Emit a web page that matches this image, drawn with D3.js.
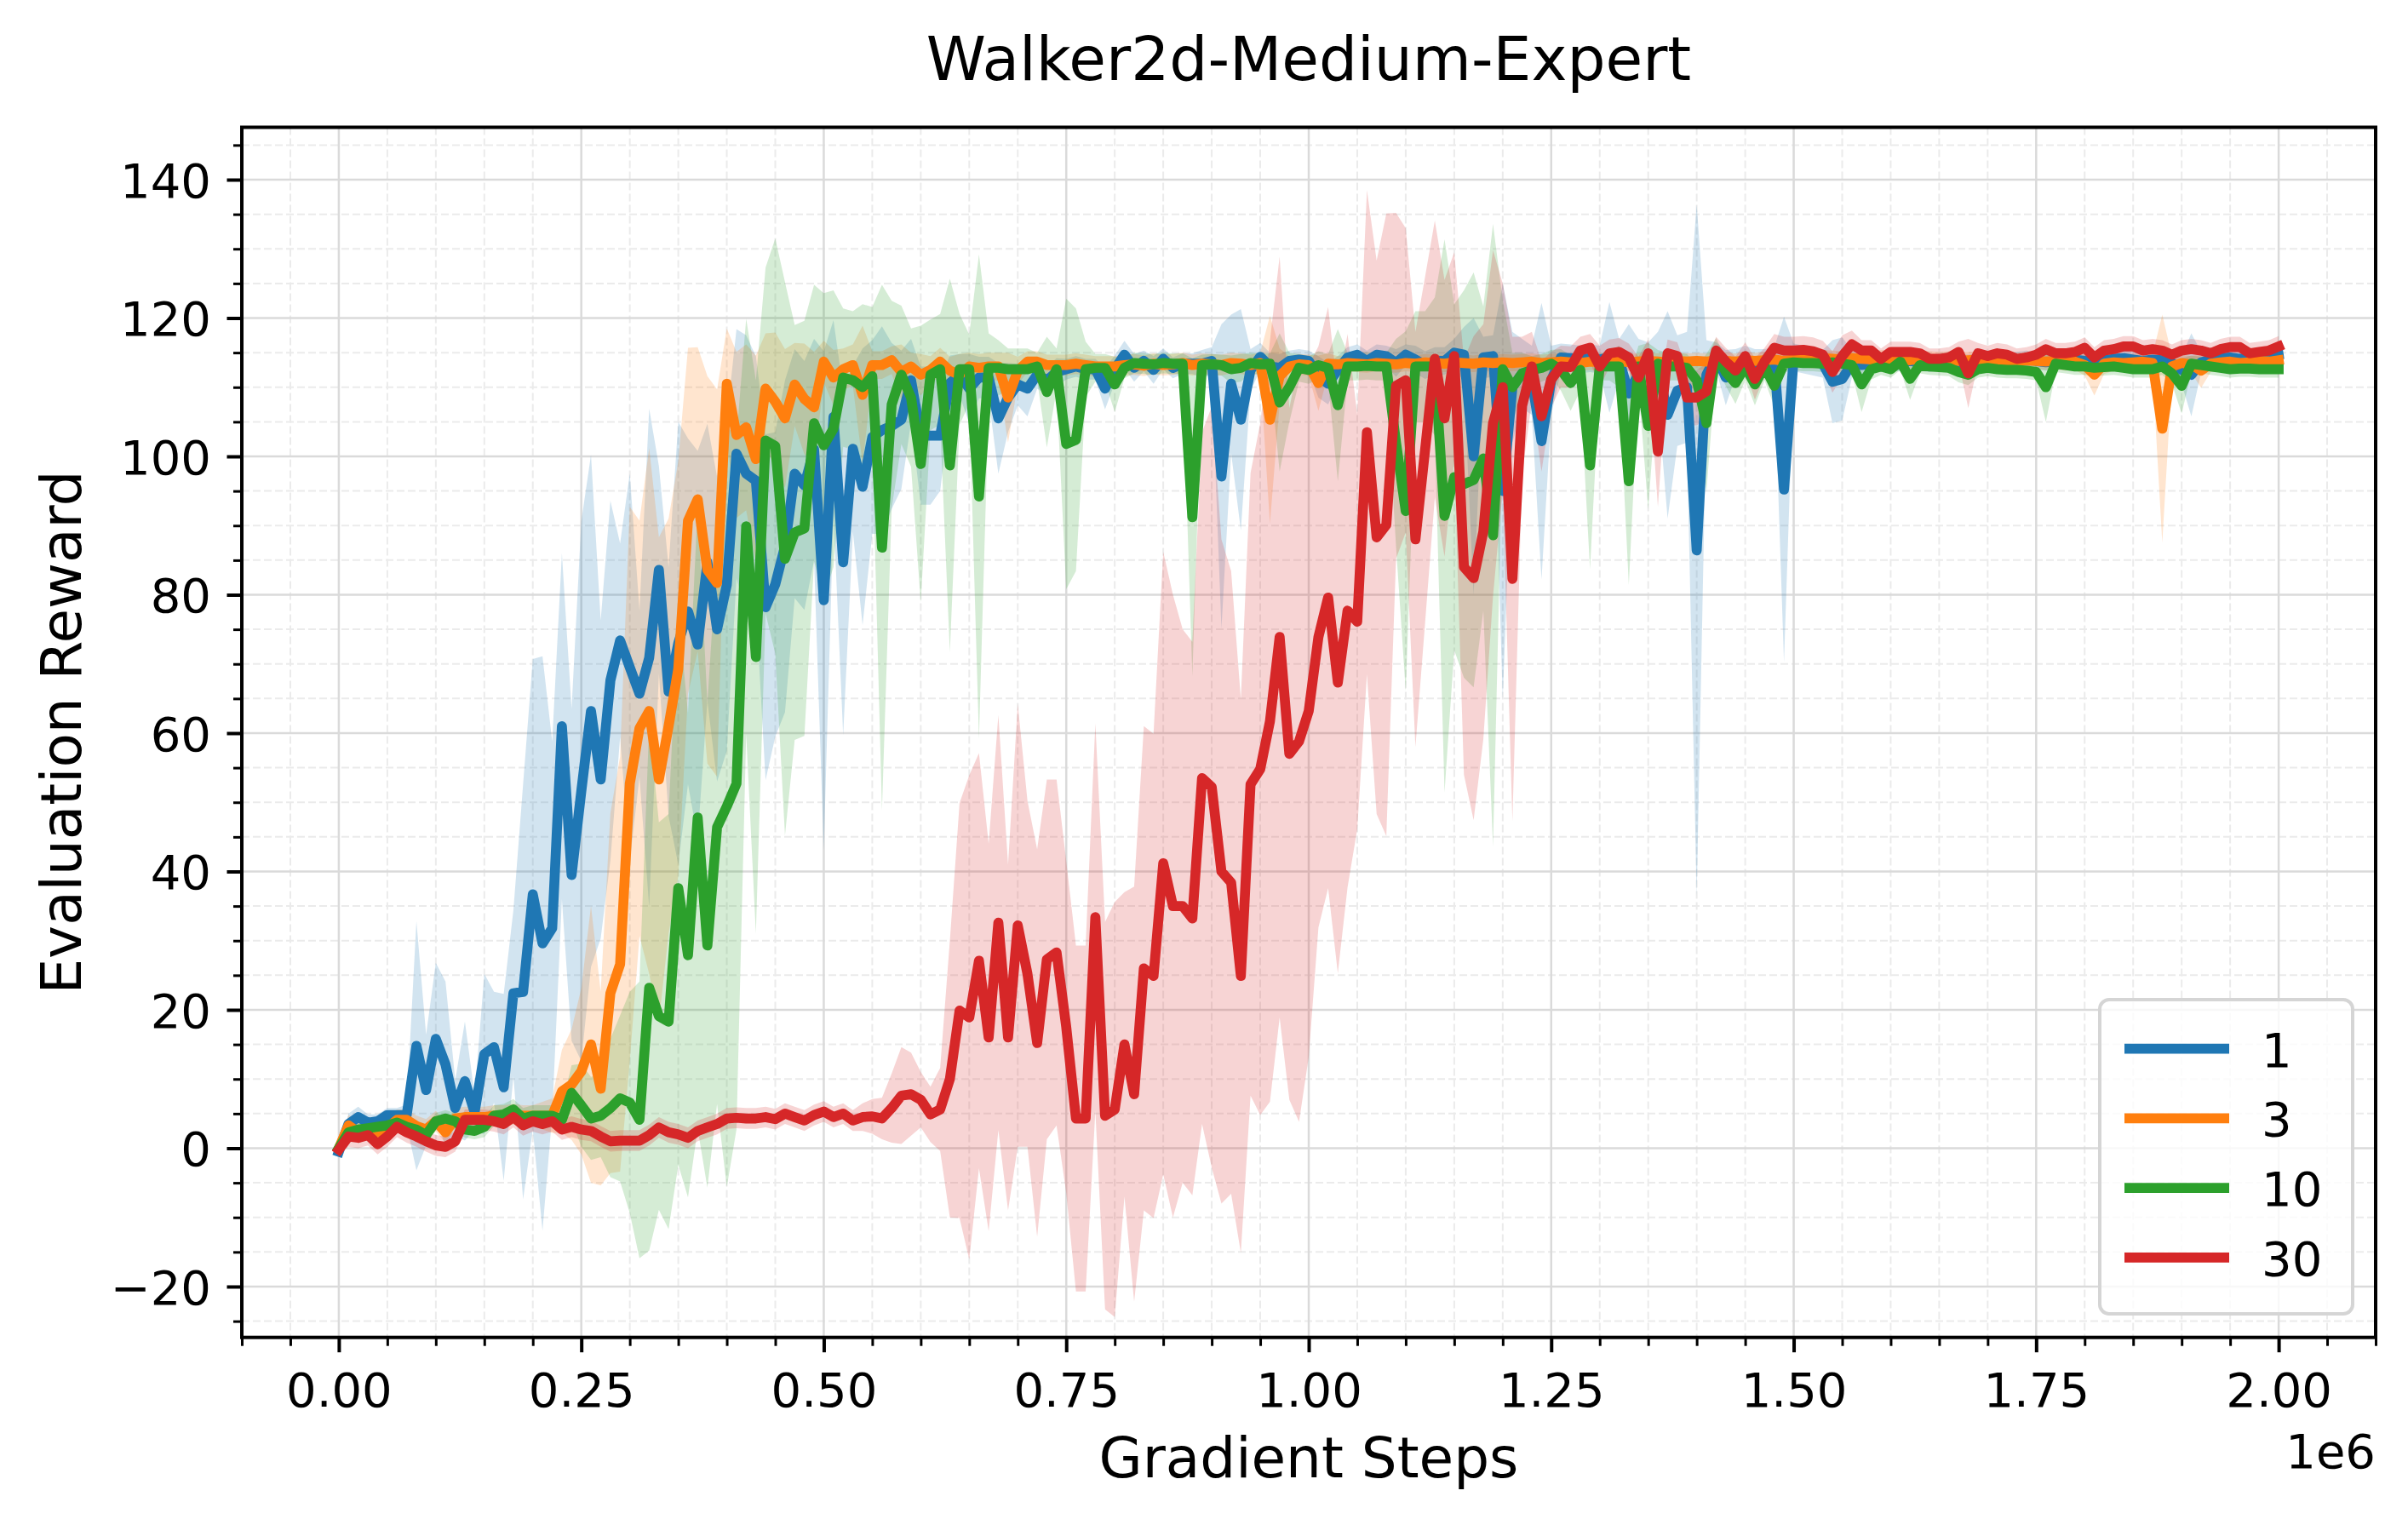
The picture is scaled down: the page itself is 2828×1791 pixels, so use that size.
<!DOCTYPE html>
<html>
<head>
<meta charset="utf-8">
<script src="https://cdnjs.cloudflare.com/ajax/libs/d3/7.8.5/d3.min.js"></script>
<style>
  body { margin: 0; background: #fff; }
  .vis { width: 2828px; height: 1791px; }
  .vis text { font-family: "DejaVu Sans", sans-serif; fill: #000; }
</style>
</head>
<body>
<div class="vis"></div>
<script>
(function() {
  'use strict';

  // gradient steps, one evaluation every 10k steps
  var steps = d3.range(0, 2000001, 10000);

  var xTicks = [0, 250000, 500000, 750000, 1000000, 1250000, 1500000, 1750000, 2000000];
  var yTicks = [-20, 0, 20, 40, 60, 80, 100, 120, 140];

  var labels = ['1', '3', '10', '30'];
  var colors = ['#1f77b4', '#ff7f0e', '#2ca02c', '#d62728'];

  var mean1 = [
    -0.5, 3.5, 4.5, 3.7, 3.9, 4.8, 4.8, 4.8, 14.8, 8.4,
    15.8, 12.1, 5.8, 9.7, 5.2, 13.6, 14.6, 8.8, 22.4, 22.6,
    36.7, 29.6, 31.8, 61, 39.5, 51.6, 63.2, 53.3, 67.6, 73.4,
    69.5, 65.7, 70.9, 83.6, 66, 73, 77.6, 72.8, 84.7, 75,
    81.4, 100.4, 97.5, 96.5, 78.2, 81.5, 87, 97.5, 95.8, 101,
    79.2, 105.7, 84.7, 101.1, 95.6, 102.8, 103.8, 104.4, 105.3, 111,
    103, 103, 103, 110.6, 111.8, 109.8, 111.4, 111.4, 105.5, 108.5,
    110.4, 109.8, 111.8, 111, 112.2, 112.6, 113, 112.6, 112.6, 109.8,
    112.6, 114.7, 112.8, 113.8, 112.5, 114.1, 112.8, 113.4, 113.4, 113.4,
    113.8, 97.1, 110.5, 105.3, 112.5, 114.4, 113, 112.8, 113.8, 114,
    113.8, 111.5, 110.5, 112.5, 114.3, 114.7, 113.8, 114.7, 114.5, 113.5,
    114.7, 114, 113.2, 113.8, 113.8, 115, 114.7, 100, 114.3, 114.5,
    95, 110, 112, 111, 102.2, 111, 114.3, 114.2, 114, 114.2,
    114, 114.3, 114, 109.1, 112, 113.5, 113, 106, 109.5, 110,
    86.4, 111.8, 114.5, 111.4, 113.5, 114, 113.5, 113.5, 113.8, 95.2,
    114.3, 114, 113.7, 113.4, 110.8, 111.2, 113.4, 113.2, 113.4, 113.4,
    113.6, 113.5, 113.8, 113.6, 113.4, 113.7, 113.9, 113.6, 113.5, 113.7,
    113.8, 113.5, 113.6, 113.9, 114.1, 113.8, 113.6, 113.7, 113.9, 114,
    113.8, 113.6, 113.9, 114.1, 114.2, 114, 113.8, 114, 113.9, 113.5,
    112.5, 111.8, 113.6, 114, 114.2, 114.3, 114.1, 114.2, 114.4, 114.5,
    114.7
  ];
  var std1 = [
    0.3, 1.5, 1.5, 1.2, 1, 1, 1, 1.5, 18, 8,
    11, 12, 4, 8.6, 2.5, 11.6, 8, 13.5, 12, 30,
    34, 41.5, 27, 25, 24, 39, 37, 23, 26, 14,
    28, 12, 36, 15, 18, 32, 25, 28, 20, 22,
    24, 18, 20, 18, 25, 22, 24, 18, 18, 16,
    36, 14, 25, 12, 20, 14, 15, 12, 10, 6,
    10, 10, 8, 4, 3, 5, 3, 3, 8, 5,
    3, 4, 2, 2, 2, 1.5, 1.5, 1.5, 1.5, 3,
    2, 2, 2, 1.5, 2, 1.5, 1.5, 1.5, 1.5, 2,
    2, 22, 10, 16, 3, 2, 2, 2, 1.5, 1.5,
    1.5, 3, 3, 2, 1.5, 1.5, 1.5, 1.5, 1.5, 2,
    1.5, 2, 2, 2, 2, 2, 4, 20, 3, 3,
    30, 8, 5, 5, 20, 5, 2, 2, 2, 2,
    2, 8, 3, 10, 5, 3, 5, 15, 8, 8,
    50, 5, 2, 4, 2, 2, 2, 2, 2, 25,
    2, 2, 2, 2, 6, 6, 2, 1.5, 1.2, 1.2,
    1.2, 1.2, 1.2, 1.2, 1.2, 1.2, 1.2, 1.2, 1.2, 1.2,
    1.2, 1.2, 1.2, 1.2, 1.2, 1.2, 1.2, 1.2, 1.2, 1.2,
    1.2, 1.2, 1.2, 1.2, 1.2, 1.2, 1.2, 1.2, 1.2, 1.2,
    2, 6, 1.5, 1.2, 1.2, 1.2, 1.2, 1.2, 1.2, 1.2,
    1.2
  ];

  var mean3 = [
    0, 3.3, 2.3, 2.7, 2.3, 2.9, 4.1, 4.1, 3.2, 2.7,
    3.9, 2.3, 4.3, 4.5, 4.5, 4.5, 4.7, 4.7, 4.9, 4.7,
    4.7, 4.7, 4.7, 8.2, 9.2, 11.1, 15, 8.6, 22.4, 26.6,
    52.7, 60.7, 63.2, 53.3, 61, 69.3, 90.7, 93.8, 83.6, 81.7,
    110.5, 103.1, 104.2, 99.6, 109.8, 107.9, 105.5, 110.4, 108.3, 107.1,
    113.7, 111.4, 112.6, 113.2, 108.9, 113.2, 113.2, 113.9, 112.2, 113,
    111.8, 112.5, 113.7, 112.4, 111.8, 113, 112.8, 113, 113, 108.5,
    112.4, 113.7, 113.7, 113.2, 113.2, 113.2, 113.4, 113.2, 113, 113,
    113, 113.2, 113.3, 113.1, 113.4, 113.2, 113.3, 113.5, 113.2, 113.4,
    113.3, 113.2, 113.5, 113.4, 113.2, 113.5, 105.3, 111.6, 113, 113.3,
    113.2, 110.6, 113.4, 113.3, 113.5, 113.4, 113.3, 113.5, 113.4, 113.3,
    113.5, 113.4, 113.6, 113.5, 113.4, 113.6, 113.5, 113.4, 113.6, 113.5,
    113.6, 113.5, 113.6, 113.7, 113.5, 113.6, 113.7, 113.6, 113.5, 113.7,
    113.6, 113.7, 113.8, 113.6, 113.7, 113.8, 113.7, 113.6, 113.8, 113.7,
    113.8, 113.7, 113.9, 113.8, 113.7, 113.9, 113.8, 113.9, 114, 113.8,
    114, 114.1, 113.9, 114.2, 114.1, 114, 114.2, 114.1, 114, 114.2,
    114.1, 114, 113.9, 114.1, 114, 113.9, 114, 113.8, 113.9, 114,
    113.8, 113.9, 113.8, 113.7, 113.9, 113.8, 113.7, 113.8, 113.6, 113.7,
    113.2, 111.8, 113.4, 113.6, 113.5, 113.6, 113.7, 113.5, 104, 113,
    113.5, 113.3, 112.4, 113.4, 113.6, 113.7, 113.5, 113.6, 113.8, 113.7,
    113.9
  ];
  var std3 = [
    0.3, 1.5, 1.5, 1.5, 1.5, 1.5, 1.5, 1.5, 1.5, 1.5,
    1.5, 1.5, 1.5, 1.5, 1.5, 1.5, 1.5, 1.5, 1.5, 1.5,
    1.5, 2, 2.5, 6, 8, 12, 20, 14, 26, 30,
    40, 30, 38, 35, 30, 30, 25, 22, 28, 28,
    8, 12, 12, 15, 8, 10, 10, 6, 8, 8,
    3, 4, 3, 3, 10, 2, 2, 2, 4, 2,
    3, 2, 2, 2, 3, 2, 2, 2, 2, 6.5,
    2, 1.5, 1.5, 1.5, 1.5, 1.5, 1.5, 1.5, 1.5, 1.5,
    1.5, 1.5, 1.5, 1.5, 1.5, 1.5, 1.5, 1.5, 1.5, 1.5,
    1.5, 1.5, 1.5, 1.5, 1.5, 1.5, 15, 4, 1.5, 1.5,
    1.5, 4, 1.5, 1.2, 1.2, 1.2, 1.2, 1.2, 1.2, 1.2,
    1.2, 1.2, 1.2, 1.2, 1.2, 1.2, 1.2, 1.2, 1.2, 1.2,
    1.2, 1.2, 1.2, 1.2, 1.2, 1.2, 1.2, 1.2, 1.2, 1.2,
    1.2, 1.2, 1.2, 1.2, 1.2, 1.2, 1.2, 1.2, 1.2, 1.2,
    1.2, 1.2, 1.2, 1.2, 1.2, 1.2, 1.2, 1.2, 1.2, 1.2,
    1.2, 1.2, 1.2, 1.2, 1.2, 1.2, 1.2, 1.2, 1.2, 1.2,
    1.2, 1.2, 1.2, 1.2, 1.2, 1.2, 1.2, 1.2, 1.2, 1.2,
    1.2, 1.2, 1.2, 1.2, 1.2, 1.2, 1.2, 1.2, 1.2, 1.2,
    1.5, 3, 1.5, 1.2, 1.2, 1.2, 1.2, 1.2, 16.5, 1.5,
    1.2, 1.2, 2.5, 1.2, 1.2, 1.2, 1.2, 1.2, 1.2, 1.2,
    1.2
  ];

  var mean10 = [
    0, 2.3, 2.7, 2.9, 3.1, 3.3, 3.7, 3.1, 2.7, 1.9,
    3.9, 4.3, 3.9, 2.7, 2.5, 3.1, 4.7, 4.9, 5.6, 4.3,
    4.7, 4.7, 4.7, 4.1, 8, 6.2, 4.3, 4.7, 5.8, 7.2,
    6.6, 4.1, 23.2, 19.1, 18.3, 37.6, 27.9, 47.8, 29.3, 46.4,
    49.4, 52.7, 89.9, 71, 102.3, 101.5, 85.2, 89, 89.6, 104.8,
    101.6, 104, 111.4, 111, 110, 111.6, 86.8, 107.5, 111.8, 108.5,
    98.9, 111.8, 112.6, 98.7, 112.6, 112.6, 94.2, 112.8, 112.8, 112.6,
    112.6, 112.6, 113, 109.3, 112.6, 101.8, 102.4, 112.6, 112.8, 112.8,
    110.4, 112.8, 113.5, 113.4, 113.3, 113.5, 113.4, 113.4, 91.2, 113.2,
    113.3, 113.2, 112.6, 112.8, 113.5, 113.3, 113.4, 107.8, 110, 112.8,
    112.5, 113.2, 112.8, 107.4, 113, 113, 113.1, 113, 113, 102,
    92.1, 113, 113, 113, 91.4, 97, 96, 96.6, 99.7, 88.6,
    112.6, 110, 112, 112.5, 112.8, 113.4, 112.5, 110.6, 112.5, 98.7,
    113, 113, 113, 96.4, 113, 104.4, 113.4, 113, 113, 112.8,
    111, 104.8, 115.1, 112.2, 110.6, 113, 110.4, 113, 110.2, 113.4,
    113.6, 113.5, 113.5, 113.4, 113.6, 113.4, 113.2, 110.4, 112.6, 113,
    112.6, 113.7, 111.2, 113.2, 113, 112.9, 112.8, 112.2, 111.8, 112.6,
    112.8, 112.6, 112.5, 112.5, 112.4, 112.2, 110, 113.4, 113.2, 113,
    113, 112.8, 112.9, 113, 112.8, 112.6, 112.6, 112.6, 113, 112,
    110.2, 113.4, 113.2, 113, 112.8, 112.6, 112.7, 112.7, 112.6, 112.6,
    112.6
  ];
  var std10 = [
    0.3, 1.2, 1.2, 1.2, 1.2, 1.2, 1.2, 1.2, 1.2, 1.2,
    1.2, 1.2, 1.2, 1.2, 1.2, 1.5, 1.5, 1.5, 1.5, 1.5,
    1.5, 1.5, 1.5, 2, 4, 6, 6, 6, 10, 12,
    16, 20, 38, 28, 30, 40, 35, 45, 35, 40,
    55, 50, 30, 40, 25, 30, 40, 30, 30, 20,
    22, 20, 10, 10, 12, 10, 38, 15, 10, 10,
    20, 8, 8, 27, 8, 5, 35, 5, 4, 3,
    3, 3, 2, 8, 3, 21, 19, 4, 2, 2,
    4, 1.5, 1.5, 1.5, 1.5, 1.5, 1.5, 1.5, 23, 1.5,
    1.5, 1.5, 2, 2, 1.5, 1.5, 1.5, 10, 5, 2,
    2, 2, 2, 11, 2, 2, 2, 2, 2, 15,
    26, 8, 8, 10, 40, 25, 28, 30, 22, 45,
    10, 5, 3, 2, 2, 2, 3, 4, 3, 15,
    2, 2, 3, 15, 3, 12, 2, 2, 2, 2,
    2, 10, 2, 2, 3, 2, 3, 2, 3, 1.2,
    1.2, 1.2, 1.2, 1.2, 1.2, 1.2, 1.2, 4, 1.5, 1.2,
    1.2, 1.2, 3, 1.2, 1.2, 1.2, 1.2, 1.5, 1.5, 1.2,
    1.2, 1.2, 1.2, 1.2, 1.2, 1.2, 5, 1.2, 1.2, 1.2,
    1.2, 1.2, 1.2, 1.2, 1.2, 1.2, 1.2, 1.2, 1.2, 1.5,
    4, 1.2, 1.2, 1.2, 1.2, 1.2, 1.2, 1.2, 1.2, 1.2,
    1.2
  ];

  var mean30 = [
    -0.2, 1.7, 1.5, 1.9, 0.6, 1.7, 3.1, 2.3, 1.7, 1.0,
    0.4, 0.2, 1.0, 4.1, 4.1, 4.1, 3.9, 3.5, 4.5, 3.3,
    3.9, 3.5, 3.9, 2.7, 3.1, 2.7, 2.5, 1.7, 1.0, 1.1,
    1.1, 1.1, 1.9, 3.0, 2.3, 2.0, 1.5, 2.5, 3.0, 3.5,
    4.3, 4.4, 4.3, 4.3, 4.5, 4.2, 5.0, 4.5, 4.0, 4.8,
    5.3, 4.5, 5.0, 4.0, 4.5, 4.6, 4.3, 5.8, 7.6, 7.8,
    7.0, 4.9, 5.6, 10, 19.9, 18.9, 27.1, 16, 32.6, 16,
    32.2, 25.2, 15.2, 27.3, 28.3, 17.5, 4.3, 4.3, 33.4, 4.7,
    5.6, 15, 7.8, 26, 24.9, 41.2, 35, 35, 33.2, 53.5,
    52.2, 40, 38.4, 24.9, 52.6, 54.8, 61.7, 73.9, 57, 58.8,
    63.2, 73.9, 79.6, 67.3, 77.7, 76.1, 103.5, 88.3, 90.1, 110.2,
    111, 88, 101, 114.1, 105.5, 114.5, 84, 82.4, 89.1, 104.8,
    110, 82.3, 107.3, 113, 105.8, 111.1, 113, 112.9, 115.3, 115.7,
    113, 114.9, 115.1, 114.3, 111.4, 114.9, 100.7, 114.9, 114.5, 108.5,
    108.5, 109.4, 115.3, 113.7, 112.4, 114.5, 111.2, 113.7, 115.7, 115.3,
    115.3, 115.4, 115.2, 114.7, 112.2, 114.5, 116.2, 115.3, 115.3, 114.1,
    115.1, 115.1, 115.1, 114.9, 114.1, 114.1, 114.3, 115.1, 112, 114.9,
    114.5, 114.9, 114.7, 114.1, 114.3, 114.7, 115.5, 114.9, 114.9, 115.1,
    115.7, 114.3, 115.3, 115.5, 115.9, 115.9, 115.3, 115.5, 115.3, 114.7,
    115.3, 115.5, 115.3, 114.9, 115.5, 115.8, 115.8, 114.9, 115.1, 115.3,
    115.9
  ];
  var std30 = [
    0.3, 1.5, 1.5, 1.5, 1.5, 1.5, 1.5, 1.5, 1.5, 1.5,
    1.5, 1.5, 1.5, 1.5, 1.5, 1.5, 1.5, 1.5, 1.5, 1.5,
    1.5, 1.5, 1.5, 1.5, 1.5, 1.5, 1.5, 1.5, 1.5, 1.5,
    1.5, 1.5, 1.5, 1.5, 1.5, 1.5, 1.5, 1.5, 1.5, 1.5,
    1.5, 1.5, 1.5, 1.5, 1.5, 1.5, 1.5, 1.5, 1.5, 1.5,
    1.5, 1.5, 1.5, 1.5, 2, 2.5, 3, 5, 7, 6,
    4, 4, 6, 20, 30, 35, 30, 28, 30, 25,
    32, 25, 28, 26, 25, 24, 25, 25, 28, 28,
    30, 22, 30, 35, 35, 45, 45, 40, 40, 50,
    55, 48, 45, 40, 45, 50, 55, 55, 50, 55,
    50, 42, 42, 42, 40, 30, 35, 40, 45, 25,
    22, 30, 25, 20, 20, 15, 30, 35, 30, 25,
    15, 35, 10, 5, 8, 4, 3, 3, 2, 2,
    3, 2, 2, 2, 3, 2, 8, 2, 2, 4,
    4, 4, 2, 2, 2, 2, 3, 2, 2, 2,
    2, 2, 2, 2, 3, 3, 2, 1.5, 1.5, 1.5,
    1.5, 1.5, 1.5, 1.5, 1.5, 1.5, 1.5, 1.5, 5, 1.5,
    1.5, 1.5, 1.5, 1.5, 1.5, 1.5, 1.5, 1.5, 1.5, 1.5,
    1.5, 1.5, 1.5, 1.5, 1.5, 1.5, 1.5, 1.5, 1.5, 1.5,
    1.5, 1.5, 1.5, 1.5, 1.5, 1.5, 1.5, 1.5, 1.5, 1.5,
    1.5
  ];

  var means = [mean1, mean3, mean10, mean30];
  var stds = [std1, std3, std10, std30];

  var series = labels.map(function(l, k) {
    return {
      label: l,
      color: colors[k],
      values: steps.map(function(s, i) {
        return {step: s, mean: means[k][i], std: stds[k][i]};
      })
    };
  });

  var elWidth = 2828,
    elHeight = 1791,
    margin = {top: 149.5, right: 38, bottom: 220.3, left: 284},
    width = elWidth - margin.left - margin.right,
    height = elHeight - margin.top - margin.bottom;

  var svg = d3.select('.vis').append('svg')
      .attr('width', elWidth)
      .attr('height', elHeight)
    .append('g')
      .attr('transform', 'translate(' + margin.left + ',' + margin.top + ')');

  var x = d3.scaleLinear().domain([-100000, 2100000]).range([0, width]);
  var y = d3.scaleLinear().domain([-27.35, 147.57]).range([height, 0]);

  var xMinor = d3.range(-100000, 2100001, 50000).filter(function(d) { return d % 250000 !== 0; });
  var yMinor = d3.range(-25, 146, 5).filter(function(d) { return d % 20 !== 0; });

  // grid: minor dashed, major solid
  var grid = svg.append('g');
  grid.selectAll('.gxm').data(xMinor).enter().append('line')
    .attr('x1', x).attr('x2', x).attr('y1', 0).attr('y2', height)
    .attr('stroke', '#ebebeb').attr('stroke-width', 2).attr('stroke-dasharray', '9,4');
  grid.selectAll('.gym').data(yMinor).enter().append('line')
    .attr('y1', y).attr('y2', y).attr('x1', 0).attr('x2', width)
    .attr('stroke', '#ebebeb').attr('stroke-width', 2).attr('stroke-dasharray', '9,4');
  grid.selectAll('.gx').data(xTicks).enter().append('line')
    .attr('x1', x).attr('x2', x).attr('y1', 0).attr('y2', height)
    .attr('stroke', '#dadada').attr('stroke-width', 2.5);
  grid.selectAll('.gy').data(yTicks).enter().append('line')
    .attr('y1', y).attr('y2', y).attr('x1', 0).attr('x2', width)
    .attr('stroke', '#dadada').attr('stroke-width', 2.5);

  svg.append('clipPath').attr('id', 'plot-clip')
    .append('rect').attr('width', width).attr('height', height);

  var plot = svg.append('g').attr('clip-path', 'url(#plot-clip)');

  var area = d3.area()
    .x(function(d) { return x(d.step); })
    .y0(function(d) { return y(d.mean - d.std); })
    .y1(function(d) { return y(d.mean + d.std); });

  var line = d3.line()
    .x(function(d) { return x(d.step); })
    .y(function(d) { return y(d.mean); });

  plot.selectAll('.band')
    .data(series)
    .enter()
    .append('path')
      .attr('class', 'band')
      .attr('d', function(d) { return area(d.values); })
      .attr('fill', function(d) { return d.color; })
      .attr('fill-opacity', 0.2)
      .attr('stroke', 'none');

  plot.selectAll('.curve')
    .data(series)
    .enter()
    .append('path')
      .attr('class', 'curve')
      .attr('d', function(d) { return line(d.values); })
      .attr('fill', 'none')
      .attr('stroke', function(d) { return d.color; })
      .attr('stroke-width', 11.7)
      .attr('stroke-linejoin', 'round')
      .attr('stroke-linecap', 'square');

  // axes
  function styleAxis(g, w) {
    g.attr('font-family', null).attr('font-size', null);
    g.select('.domain').remove();
    g.selectAll('.tick line').attr('stroke', '#000').attr('stroke-width', w);
    g.selectAll('.tick text').style('font-size', '56px');
  }

  svg.append('g')
      .attr('transform', 'translate(0,' + height + ')')
      .call(d3.axisBottom(x).tickValues(xMinor).tickSize(10).tickFormat(''))
      .call(styleAxis, 3);
  svg.append('g')
      .call(d3.axisLeft(y).tickValues(yMinor).tickSize(10).tickFormat(''))
      .call(styleAxis, 3);

  svg.append('g')
      .attr('transform', 'translate(0,' + height + ')')
      .call(d3.axisBottom(x).tickValues(xTicks).tickSize(17.5).tickPadding(24)
        .tickFormat(function(d) { return (d / 1e6).toFixed(2); }))
      .call(styleAxis, 4);

  svg.append('g')
      .call(d3.axisLeft(y).tickValues(yTicks).tickSize(17.5).tickPadding(18.5)
        .tickFormat(function(d) { return d < 0 ? '\u2212' + Math.abs(d) : String(d); }))
      .call(styleAxis, 4)
      .selectAll('.tick text').attr('dy', '0.36em');

  // spines
  svg.append('rect')
    .attr('width', width).attr('height', height)
    .attr('fill', 'none').attr('stroke', '#000').attr('stroke-width', 4);

  svg.append('text')
    .attr('x', width).attr('y', 1574.5)
    .attr('text-anchor', 'end')
    .style('font-size', '56px')
    .text('1e6');

  svg.append('text')
    .attr('x', width / 2).attr('y', -55.5)
    .attr('text-anchor', 'middle')
    .style('font-size', '71px')
    .text('Walker2d-Medium-Expert');

  svg.append('text')
    .attr('x', width / 2).attr('y', 1585.5)
    .attr('text-anchor', 'middle')
    .style('font-size', '66px')
    .text('Gradient Steps');

  svg.append('text')
    .attr('transform', 'translate(-189,' + (height / 2) + ') rotate(-90)')
    .attr('text-anchor', 'middle')
    .style('font-size', '66px')
    .text('Evaluation Reward');

  // legend
  var legend = svg.append('g').attr('transform', 'translate(2182,1024.5)');
  legend.append('rect')
    .attr('width', 297).attr('height', 369).attr('rx', 11)
    .attr('fill', '#fff').attr('fill-opacity', 0.8)
    .attr('stroke', '#d5d5d5').attr('stroke-width', 4);

  var rows = legend.selectAll('.row')
    .data(series)
    .enter()
    .append('g')
      .attr('class', 'row')
      .attr('transform', function(d, i) { return 'translate(0,' + (57.7 + i * 81.7) + ')'; });

  rows.append('line')
    .attr('x1', 29).attr('x2', 152)
    .attr('stroke', function(d) { return d.color; })
    .attr('stroke-width', 11.7);

  rows.append('text')
    .attr('x', 190).attr('y', 21)
    .style('font-size', '56px')
    .text(function(d) { return d.label; });
}());
</script>
</body>
</html>
